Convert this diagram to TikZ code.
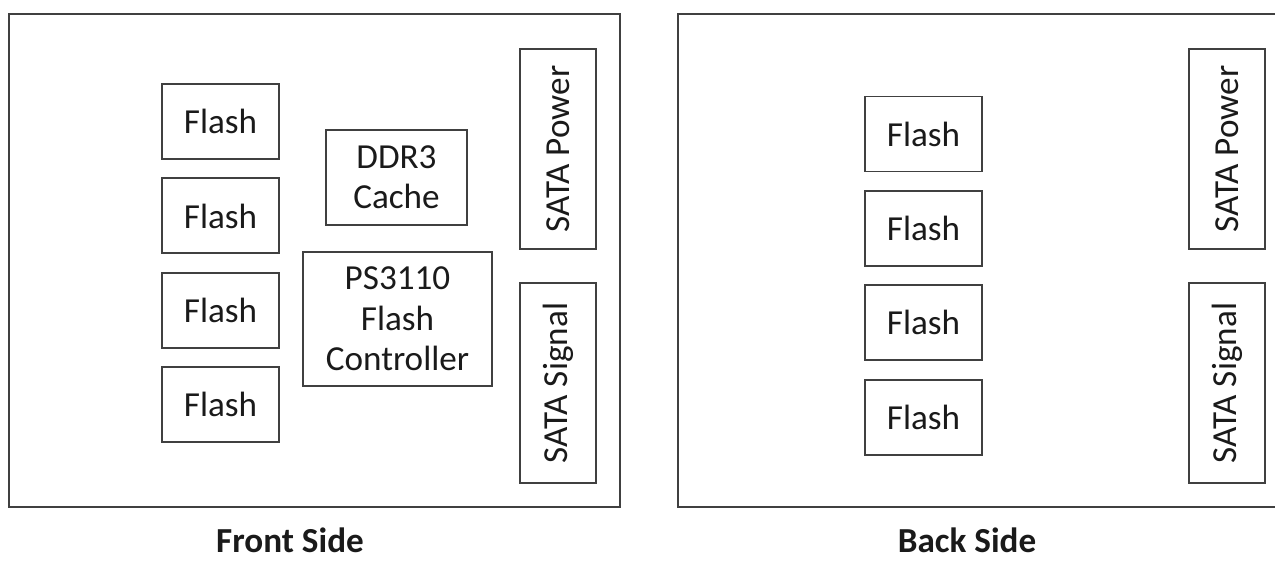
\documentclass[tikz,border=0pt]{standalone}
\usepackage{fontspec}
\setmainfont{Carlito}
\usepackage{xcolor}
\usetikzlibrary{positioning}
\definecolor{board_line}{HTML}{404040}
\definecolor{chip_text}{HTML}{1a1a1a}

\begin{document}
\begin{tikzpicture}[every node/.style={font=\fontsize{20}{23}\selectfont, text=chip_text},
  chip/.style={draw=board_line, line width=1.1pt, inner sep=0pt, align=center},
  flashchip/.style={chip, minimum width=2.34cm, minimum height=1.5cm},
  sataport/.style={chip, rotate=90, minimum width=4cm, minimum height=1.52cm},
  sidelabel/.style={font=\fontsize{20}{23}\selectfont\bfseries, inner sep=0pt}]

  \useasboundingbox (0,0) rectangle (25.5,11.26);

  % Front side of the board
  \draw[board_line, line width=1.1pt] (0.18,1.12) rectangle (12.40,10.98);

  \node[flashchip] (front_f1) at (4.41,8.83) {Flash};
  \node[flashchip, below=0.35cm of front_f1] (front_f2) {Flash};
  \node[flashchip, below=0.35cm of front_f2] (front_f3) {Flash};
  \node[flashchip, below=0.35cm of front_f3] (front_f4) {Flash};

  \node[chip, minimum width=2.82cm, minimum height=1.9cm] (ddr) at (7.93,7.71) {DDR3\\Cache};
  \node[chip, minimum width=3.78cm, minimum height=2.68cm] (ctrl) at (7.95,4.88) {PS3110\\Flash\\Controller};

  \node[sataport] (front_power) at (11.16,8.28) {SATA Power};
  \node[sataport] (front_signal) at (11.16,3.60) {SATA Signal};

  \node[sidelabel] (front_label) at (5.80,0.46) {Front Side};

  % Back side, runs off the right edge
  \draw[board_line, line width=1.1pt] (25.5,10.98) -- (13.56,10.98) -- (13.56,1.12) -- (25.5,1.12);

  \node[flashchip] (back_f1) at (18.47,8.58) {Flash};
  \node[flashchip, below=0.35cm of back_f1] (back_f2) {Flash};
  \node[flashchip, below=0.35cm of back_f2] (back_f3) {Flash};
  \node[flashchip, below=0.35cm of back_f3] (back_f4) {Flash};

  \node[sataport] (back_power) at (24.54,8.28) {SATA Power};
  \node[sataport] (back_signal) at (24.54,3.60) {SATA Signal};

  \node[sidelabel] (back_label) at (19.34,0.46) {Back Side};

\end{tikzpicture}
\end{document}
